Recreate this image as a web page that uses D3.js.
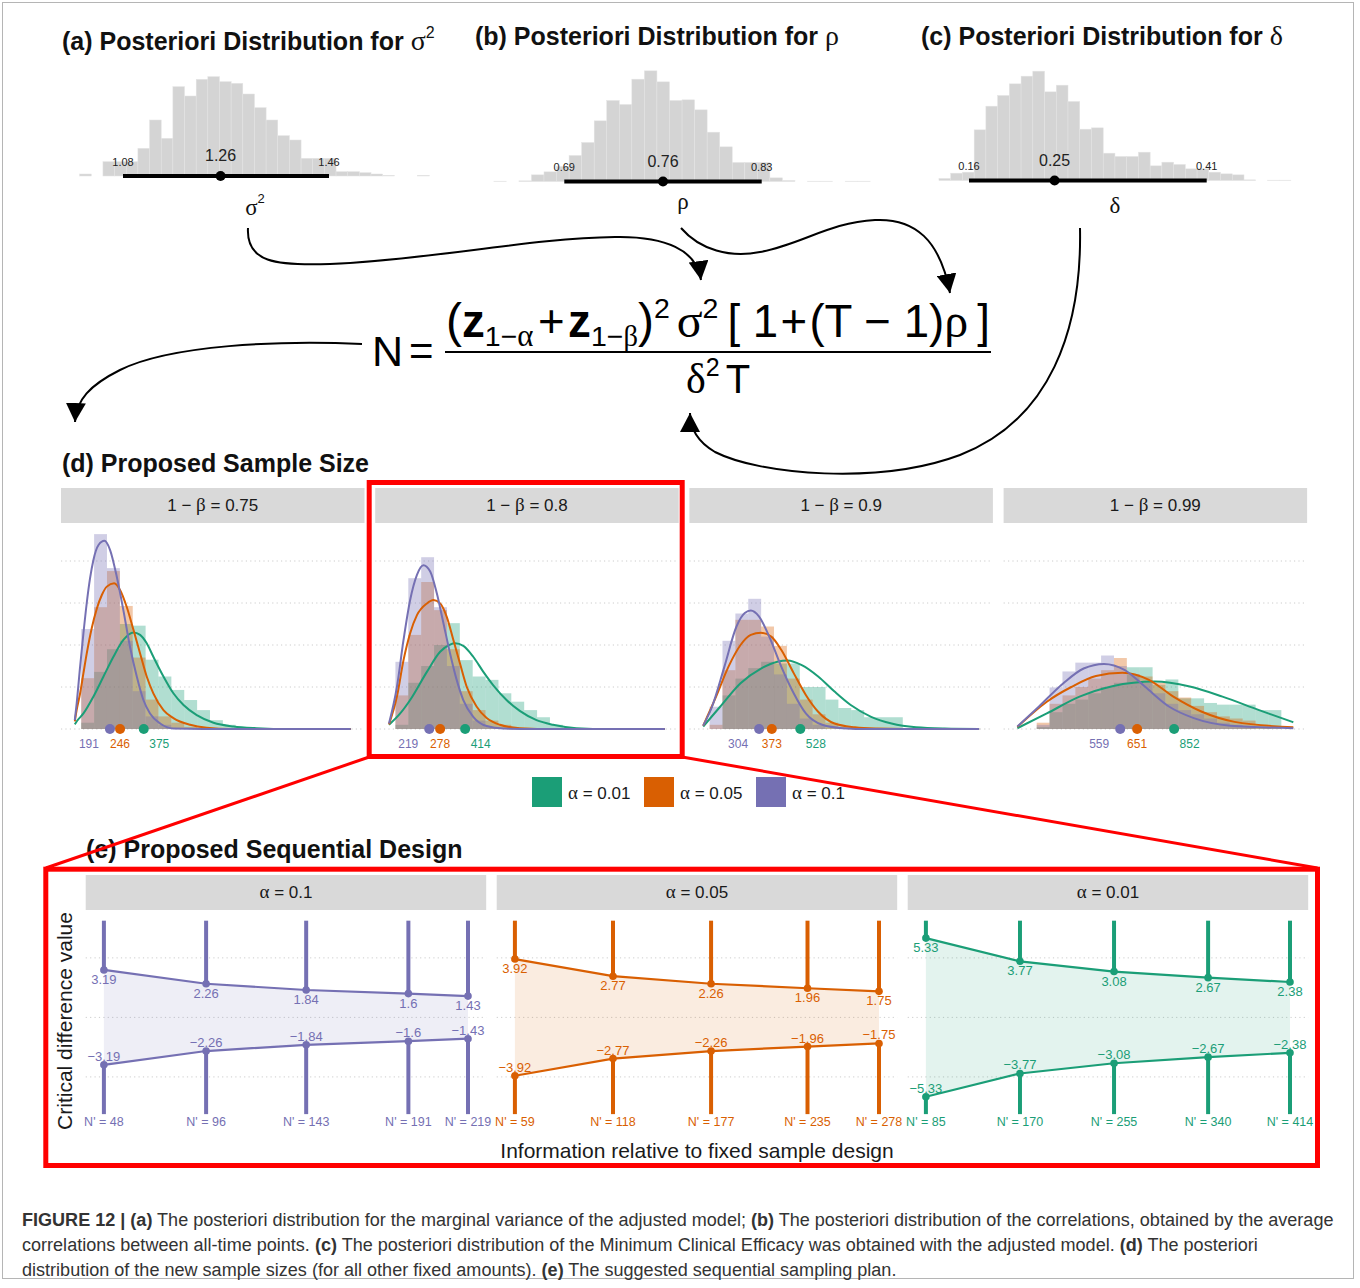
<!DOCTYPE html>
<html>
<head>
<meta charset="utf-8">
<script src="https://cdn.jsdelivr.net/npm/d3@7"></script>
<style>
  body { margin: 0; background: #fff; }
  svg { display: block; }
</style>
</head>
<body>
<svg id="fig" width="1360" height="1288"></svg>
<script>
// ---------- (a)-(c) posterior histograms ----------
const SIGMA_BIN_START = 1.0, SIGMA_BIN_WIDTH = 0.0215;
const SIGMA_COUNTS = [6,0,43,43,43,83,168,113,268,240,290,298,283,278,246,205,168,121,108,53,53,53,13,13,10,6,2,0,0,2];
const SIGMA_INTERVAL = [1.08, 1.26, 1.46];

const RHO_BIN_START = 0.640, RHO_BIN_WIDTH = 0.0089;
const RHO_COUNTS = [1,0,2,20,29,45,78,117,182,243,231,307,332,299,243,245,215,148,104,57,57,57,11,3,0,1,1,0,1,1];
const RHO_INTERVAL = [0.69, 0.76, 0.83];

const DELTA_BIN_START = 0.1284, DELTA_BIN_WIDTH = 0.01234;
const DELTA_COUNTS = [6,22,25,152,223,255,290,313,328,266,286,237,154,158,82,72,72,85,44,55,48,35,35,25,20,17,2,0,1,1];
const DELTA_INTERVAL = [0.16, 0.25, 0.41];

// ---------- (d) proposed sample size ----------
const POWER_LEVELS = ["0.75", "0.8", "0.9", "0.99"];
const ALPHA_LEVELS = ["0.01", "0.05", "0.1"];
const ALPHA_COLORS = ["#1b9e77", "#d95f02", "#7570b3"];
const MEDIAN_N = [[375, 246, 191], [414, 278, 219], [528, 373, 304], [852, 651, 559]];
const HIST_BIN_START = 35, HIST_BIN_WIDTH = 70;   // sample-size bins
const DENSITY_TICKS = [0, 1, 2, 3, 4];              // density x 1000

// histogram densities (x1000), per alpha: 0.01, 0.05, 0.1
const HIST_075 = [
  [0.15,1.36,1.9,2.5,2.46,1.65,1.25,0.93,0.69,0.45,0.21,0.1],
  [1.21,2.9,3.76,2.93,1.7,0.7,0.3,0.15,0.05],
  [2.38,4.64,3.83,2.1,0.9,0.3,0.1]
];
const HIST_080 = [
  [0.1,1.1,1.5,2.0,2.52,1.64,1.25,1.17,0.85,0.65,0.45,0.28,0.1],
  [0.8,2.24,3.5,2.83,1.9,0.9,0.45,0.2,0.1],
  [1.6,3.59,4.09,2.9,1.5,0.6,0.2,0.05]
];
const HIST_090 = [
  [0,0.8,1.2,1.45,1.6,1.56,1.56,1.0,1.0,0.7,0.5,0.45,0.28,0.28,0.28],
  [0.1,1.4,2.6,2.6,2.44,1.98,1.2,0.7,0.35,0.15,0.05],
  [0.53,2.1,2.75,3.1,2.2,1.3,0.6,0.25,0.1]
];
const HIST_099 = [
  [0,0.05,0.4,0.6,0.7,0.85,1.0,1.1,1.47,1.47,1.05,1.18,0.73,0.73,0.62,0.58,0.58,0.58,0.45,0.45,0],
  [0,0.15,0.6,0.8,1.0,1.2,1.4,1.69,1.3,1.25,1.1,0.9,0.75,0.55,0.4,0.3,0.25,0.2,0.1,0.05],
  [0,0.1,0.99,1.37,1.58,1.58,1.75,1.5,1.3,1.1,0.85,0.6,0.45,0.35,0.25,0.15,0.1,0.05]
];

// fitted density curves [N, density x 1000], per alpha: 0.01, 0.05, 0.1
const CURVE_075 = [
  [[0,0.11],[10,0.18],[47,0.37],[101,0.77],[156,1.25],[210,1.72],[264,2.12],[319,2.30],[355,2.24],[391,2.04],[427,1.72],[482,1.25],[536,0.85],[591,0.57],[663,0.33],[754,0.15],[862,0.06],[989,0.02],[1170,0],[1500,0]],
  [[0,0.18],[10,0.45],[29,0.85],[47,1.33],[65,1.80],[92,2.40],[120,2.87],[147,3.19],[174,3.39],[214,3.47],[246,3.31],[282,2.91],[319,2.36],[355,1.80],[391,1.25],[427,0.85],[482,0.45],[536,0.26],[627,0.10],[717,0.03],[850,0],[1500,0]],
  [[0,0.21],[10,0.6],[29,1.49],[47,2.28],[65,3.0],[83,3.59],[101,4.02],[129,4.38],[161,4.48],[192,4.26],[228,3.63],[264,2.83],[300,1.96],[337,1.25],[373,0.69],[409,0.37],[464,0.13],[536,0.01],[700,0],[1500,0]]
];
const CURVE_080 = [
  [[0,0.10],[61,0.37],[115,0.69],[206,1.36],[278,1.84],[332,2.01],[359,2.04],[404,1.98],[458,1.72],[513,1.36],[567,1.04],[639,0.69],[711,0.43],[802,0.21],[892,0.10],[1018,0.02],[1199,0],[1500,0]],
  [[0,0.11],[43,0.77],[79,1.64],[115,2.28],[152,2.71],[206,2.99],[242,3.07],[278,2.99],[314,2.67],[350,2.12],[386,1.56],[423,1.0],[477,0.53],[531,0.26],[603,0.10],[711,0.02],[900,0],[1500,0]],
  [[0,0.13],[43,1.0],[79,2.12],[115,3.07],[152,3.67],[187,3.90],[224,3.75],[260,3.23],[296,2.52],[332,1.80],[368,1.17],[404,0.69],[458,0.29],[531,0.07],[621,0.01],[800,0],[1500,0]]
];
const CURVE_090 = [
  [[0,0.06],[92,0.53],[203,1.09],[314,1.44],[403,1.60],[458,1.63],[536,1.52],[625,1.25],[714,0.89],[802,0.57],[913,0.29],[1024,0.13],[1157,0.04],[1312,0.01],[1500,0]],
  [[0,0.08],[70,0.77],[137,1.48],[203,2.0],[259,2.24],[314,2.29],[370,2.2],[425,1.88],[492,1.33],[558,0.81],[625,0.41],[714,0.13],[825,0.04],[935,0.01],[1100,0],[1500,0]],
  [[0,0.08],[48,0.53],[115,1.48],[181,2.44],[226,2.76],[259,2.82],[303,2.68],[359,2.20],[425,1.48],[492,0.85],[558,0.37],[647,0.10],[758,0.02],[900,0],[1500,0]]
];
const CURVE_099 = [
  [[0,0.02],[160,0.37],[338,0.77],[516,1.02],[748,1.13],[937,1.01],[1115,0.77],[1314,0.45],[1500,0.16]],
  [[0,0.05],[160,0.65],[293,1.0],[427,1.26],[571,1.34],[715,1.17],[848,0.77],[1003,0.41],[1181,0.17],[1500,0.04]],
  [[0,0.06],[116,0.53],[250,1.09],[360,1.44],[471,1.55],[582,1.41],[693,1.01],[826,0.53],[959,0.26],[1159,0.08],[1500,0.02]]
];
const HISTS = [HIST_075, HIST_080, HIST_090, HIST_099];
const CURVES = [CURVE_075, CURVE_080, CURVE_090, CURVE_099];

// ---------- (e) sequential design ----------
const SEQ_ALPHA = ["0.1", "0.05", "0.01"];
const SEQ_COLORS = ["#7570b3", "#d95f02", "#1b9e77"];
const SEQ_N = [[48, 96, 143, 191, 219], [59, 118, 177, 235, 278], [85, 170, 255, 340, 414]];
const SEQ_BOUND = [[3.19, 2.26, 1.84, 1.6, 1.43], [3.92, 2.77, 2.26, 1.96, 1.75], [5.33, 3.77, 3.08, 2.67, 2.38]];
const SEQ_GRID = [-4, 0, 4];
const SEQ_LIMIT = 6.5;

// ---------- drawing ----------
const SANS = "'Liberation Sans', Arial, Helvetica, sans-serif";
const SERIF = "'Liberation Serif', 'Times New Roman', serif";
const svg = d3.select("#fig");
svg.append("rect").attr("x", 0).attr("y", 0).attr("width", 1360).attr("height", 1288).attr("fill", "#fff");
svg.append("rect").attr("x", 2.5).attr("y", 2.5).attr("width", 1351).attr("height", 1276)
  .attr("fill", "none").attr("stroke", "#b5b5b5").attr("stroke-width", 1);

const fmt = v => String(v).replace("-", "\u2212");

// title with a greek symbol (optionally squared)
function greekTitle(x, y, prefix, sym, sup) {
  const t = svg.append("text").attr("x", x).attr("y", y)
    .attr("font-family", SANS).attr("font-size", 25).attr("font-weight", "bold").attr("fill", "#111");
  t.append("tspan").text(prefix);
  t.append("tspan").attr("font-family", SERIF).attr("font-weight", "normal").attr("font-size", 28).text(sym);
  if (sup) t.append("tspan").attr("font-weight", "normal").attr("font-size", 16).attr("dy", -12).text(sup);
}

function posterior(cfg) {
  const g = svg.append("g");
  const x = d3.scaleLinear().domain([cfg.interval[0], cfg.interval[2]]).range(cfg.range);
  const y = d3.scaleLinear().domain([0, 300]).range([cfg.base, cfg.base - 100]);
  g.selectAll("rect").data(cfg.counts).join("rect")
    .attr("x", (d, i) => x(cfg.start + i * cfg.width))
    .attr("width", x(cfg.start + cfg.width) - x(cfg.start))
    .attr("y", d => y(d))
    .attr("height", d => Math.max(0, y(0) - y(d)))
    .attr("fill", "#d4d4d4").attr("stroke", "#e4e4e4").attr("stroke-width", 0.5);
  g.append("line").attr("x1", x(cfg.interval[0])).attr("x2", x(cfg.interval[2]))
    .attr("y1", cfg.base).attr("y2", cfg.base).attr("stroke", "#000").attr("stroke-width", 4);
  g.append("circle").attr("cx", x(cfg.interval[1])).attr("cy", cfg.base).attr("r", 5).attr("fill", "#000");
  [0, 2].forEach(k => g.append("text").attr("x", x(cfg.interval[k])).attr("y", cfg.base - 10.5)
    .attr("text-anchor", "middle").attr("font-family", SANS).attr("font-size", 11).attr("fill", "#222")
    .text(cfg.interval[k].toFixed(2)));
  g.append("text").attr("x", x(cfg.interval[1])).attr("y", cfg.base - 15)
    .attr("text-anchor", "middle").attr("font-family", SANS).attr("font-size", 16).attr("fill", "#222")
    .text(cfg.interval[1].toFixed(2));
  const lab = g.append("text").attr("x", cfg.labelX).attr("y", cfg.labelY).attr("text-anchor", "middle")
    .attr("font-family", SERIF).attr("font-size", 23).attr("fill", "#111");
  lab.append("tspan").text(cfg.sym);
  if (cfg.sup) lab.append("tspan").attr("font-family", SANS).attr("font-size", 13).attr("dy", -12).text(cfg.sup);
}

greekTitle(62, 50, "(a) Posteriori Distribution for ", "\u03c3", "2");
greekTitle(475, 45, "(b) Posteriori Distribution for ", "\u03c1");
greekTitle(921, 45, "(c) Posteriori Distribution for ", "\u03b4");

posterior({counts: SIGMA_COUNTS, start: SIGMA_BIN_START, width: SIGMA_BIN_WIDTH, interval: SIGMA_INTERVAL,
  range: [123, 329], base: 176, sym: "\u03c3", sup: "2", labelX: 255, labelY: 215});
posterior({counts: RHO_COUNTS, start: RHO_BIN_START, width: RHO_BIN_WIDTH, interval: RHO_INTERVAL,
  range: [564.3, 761.7], base: 181.5, sym: "\u03c1", labelX: 683, labelY: 209});
posterior({counts: DELTA_COUNTS, start: DELTA_BIN_START, width: DELTA_BIN_WIDTH, interval: DELTA_INTERVAL,
  range: [969, 1206.7], base: 180.5, sym: "\u03b4", labelX: 1115, labelY: 213});

// ---------- arrows ----------
const defs = svg.append("defs");
defs.append("marker").attr("id", "head").attr("viewBox", "0 -10 19 20")
  .attr("refX", 19).attr("refY", 0).attr("markerWidth", 19).attr("markerHeight", 20)
  .attr("markerUnits", "userSpaceOnUse").attr("orient", "auto")
  .append("path").attr("d", "M0,-10L19,0L0,10Z").attr("fill", "#000");
const arrows = [
  "M248,228 C246,262 275,266 330,264 C430,260 530,238 615,237 C665,236 697,250 701,280",
  "M681,228 C700,250 730,258 760,252 C800,245 830,222 875,220 C915,218 940,240 950,293",
  "M1080,228 C1082,330 1050,420 960,455 C880,485 760,475 715,452 C698,442 690,430 690,413",
  "M362,344 C280,340 170,345 120,370 C90,385 76,400 75,422"
];
svg.append("g").selectAll("path").data(arrows).join("path").attr("d", d => d)
  .attr("fill", "none").attr("stroke", "#000").attr("stroke-width", 2).attr("marker-end", "url(#head)");

// ---------- formula ----------
function pieces(g, list, x0, base) {
  let x = x0;
  list.forEach(p => {
    const t = g.append("text").attr("x", x).attr("y", base + (p.dy || 0))
      .attr("font-family", p.serif ? SERIF : SANS).attr("font-size", p.size)
      .attr("font-weight", p.bold ? "bold" : "normal").attr("fill", "#000").text(p.t);
    x += t.node().getComputedTextLength() + (p.gap || 0);
  });
  return x - x0;
}
const numG = svg.append("g");
const numW = pieces(numG, [
  {t: "(", size: 42}, {t: "z", size: 40, bold: true}, {t: "1\u2212", size: 25, dy: 8}, {t: "\u03b1", size: 27, dy: 8, serif: true, gap: 4},
  {t: "+", size: 40, gap: 3}, {t: "z", size: 40, bold: true}, {t: "1\u2212", size: 25, dy: 8}, {t: "\u03b2", size: 25, dy: 8, serif: true},
  {t: ")", size: 42}, {t: "2", size: 25, dy: -17, gap: 6}, {t: "\u03c3", size: 42, serif: true}, {t: "2", size: 25, dy: -17, gap: 8},
  {t: "[ 1", size: 40, gap: 2}, {t: "+", size: 40, gap: 2}, {t: "(T \u2212 1) ", size: 40}, {t: "\u03c1", size: 42, serif: true, gap: 8}, {t: "]", size: 40}
], 0, 0);
const numScale = 544 / numW;
numG.attr("transform", `translate(446,337) scale(${numScale})`);
svg.append("line").attr("x1", 445).attr("x2", 991).attr("y1", 352).attr("y2", 352).attr("stroke", "#000").attr("stroke-width", 2);
const denG = svg.append("g");
const denW = pieces(denG, [{t: "\u03b4", size: 42, serif: true}, {t: "2", size: 25, dy: -17, gap: 6}, {t: "T", size: 40}], 0, 0);
denG.attr("transform", `translate(${718 - denW / 2},393)`);
svg.append("text").attr("x", 372).attr("y", 366).attr("font-family", SANS).attr("font-size", 43).text("N");
svg.append("text").attr("x", 409).attr("y", 365).attr("font-family", SANS).attr("font-size", 42).text("=");

// ---------- (d) ----------
svg.append("text").attr("x", 62).attr("y", 472).attr("font-family", SANS).attr("font-size", 25)
  .attr("font-weight", "bold").attr("fill", "#111").text("(d) Proposed Sample Size");

const D_LEFT = 61, D_WIDTH = 303.5, D_GAP = 10.7;
const yDens = d3.scaleLinear().domain([0, 1]).range([729, 687]);
POWER_LEVELS.forEach((pw, i) => {
  const x0 = D_LEFT + i * (D_WIDTH + D_GAP);
  const pad = D_WIDTH * 0.05 / 1.1;
  const xs = d3.scaleLinear().domain([0, 1500]).range([x0 + pad, x0 + D_WIDTH - pad]);
  const g = svg.append("g");
  g.append("rect").attr("x", x0).attr("y", 488).attr("width", D_WIDTH).attr("height", 35).attr("fill", "#d9d9d9");
  const st = g.append("text").attr("x", x0 + D_WIDTH / 2).attr("y", 511).attr("text-anchor", "middle")
    .attr("font-family", SANS).attr("font-size", 17).attr("fill", "#1a1a1a");
  st.append("tspan").text("1 \u2212 ");
  st.append("tspan").attr("font-family", SERIF).attr("font-size", 19).text("\u03b2");
  st.append("tspan").text(" = " + pw);
  g.selectAll("line.grid").data(DENSITY_TICKS).join("line").attr("class", "grid")
    .attr("x1", x0).attr("x2", x0 + D_WIDTH).attr("y1", d => yDens(d)).attr("y2", d => yDens(d))
    .attr("stroke", "#cccccc").attr("stroke-width", 1).attr("stroke-dasharray", "1.2,3.2");
  HISTS[i].forEach((hist, a) => {
    g.append("g").selectAll("rect").data(hist).join("rect")
      .attr("x", (d, k) => xs(HIST_BIN_START + k * HIST_BIN_WIDTH))
      .attr("width", xs(HIST_BIN_WIDTH) - xs(0))
      .attr("y", d => yDens(d)).attr("height", d => yDens(0) - yDens(d))
      .attr("fill", ALPHA_COLORS[a]).attr("fill-opacity", 0.34);
  });
  const line = d3.line().x(d => xs(d[0])).y(d => yDens(d[1])).curve(d3.curveMonotoneX);
  CURVES[i].forEach((c, a) => {
    g.append("path").attr("d", line(c)).attr("fill", "none").attr("stroke", ALPHA_COLORS[a]).attr("stroke-width", 2);
  });
  const nudge = [15.5, 0, -21];
  MEDIAN_N[i].forEach((m, a) => {
    g.append("circle").attr("cx", xs(m)).attr("cy", yDens(0)).attr("r", 5).attr("fill", ALPHA_COLORS[a]);
    g.append("text").attr("x", xs(m) + nudge[a]).attr("y", 747.5).attr("text-anchor", "middle")
      .attr("font-family", SANS).attr("font-size", 12).attr("fill", ALPHA_COLORS[a]).text(m);
  });
});

// legend
const legX = [532, 644, 756];
ALPHA_LEVELS.forEach((al, a) => {
  svg.append("rect").attr("x", legX[a]).attr("y", 777).attr("width", 30).attr("height", 30).attr("fill", ALPHA_COLORS[a]);
  const t = svg.append("text").attr("x", legX[a] + 36).attr("y", 799).attr("font-family", SANS)
    .attr("font-size", 17).attr("fill", "#1a1a1a");
  t.append("tspan").attr("font-family", SERIF).attr("font-size", 19).text("\u03b1");
  t.append("tspan").text(" = " + al);
});

// ---------- (e) ----------
svg.append("text").attr("x", 86).attr("y", 858).attr("font-family", SANS).attr("font-size", 25)
  .attr("font-weight", "bold").attr("fill", "#111").text("(e) Proposed Sequential Design");

const E_LEFT = 85.7, E_WIDTH = 400.5, E_GAP = 10.5;
const ySeq = d3.scaleLinear().domain([0, 1]).range([1017.4, 1002.52]);
SEQ_ALPHA.forEach((al, i) => {
  const x0 = E_LEFT + i * (E_WIDTH + E_GAP);
  const pad = E_WIDTH * 0.05 / 1.1;
  const ns = SEQ_N[i];
  const xs = d3.scaleLinear().domain([ns[0], ns[ns.length - 1]]).range([x0 + pad, x0 + E_WIDTH - pad]);
  const col = SEQ_COLORS[i];
  const g = svg.append("g");
  g.append("rect").attr("x", x0).attr("y", 875).attr("width", E_WIDTH).attr("height", 35).attr("fill", "#d9d9d9");
  const st = g.append("text").attr("x", x0 + E_WIDTH / 2).attr("y", 898).attr("text-anchor", "middle")
    .attr("font-family", SANS).attr("font-size", 17).attr("fill", "#1a1a1a");
  st.append("tspan").attr("font-family", SERIF).attr("font-size", 19).text("\u03b1");
  st.append("tspan").text(" = " + al);
  g.selectAll("line.grid").data(SEQ_GRID).join("line").attr("class", "grid")
    .attr("x1", x0).attr("x2", x0 + E_WIDTH).attr("y1", d => ySeq(d)).attr("y2", d => ySeq(d))
    .attr("stroke", "#cccccc").attr("stroke-width", 1).attr("stroke-dasharray", "1.2,3.2");
  const pts = ns.map((n, k) => ({n, b: SEQ_BOUND[i][k]}));
  g.append("path").attr("d", d3.area().x(d => xs(d.n)).y0(d => ySeq(-d.b)).y1(d => ySeq(d.b))(pts))
    .attr("fill", col).attr("fill-opacity", 0.12);
  pts.forEach(p => {
    g.append("line").attr("x1", xs(p.n)).attr("x2", xs(p.n)).attr("y1", ySeq(SEQ_LIMIT)).attr("y2", ySeq(p.b))
      .attr("stroke", col).attr("stroke-width", 4);
    g.append("line").attr("x1", xs(p.n)).attr("x2", xs(p.n)).attr("y1", ySeq(-p.b)).attr("y2", ySeq(-SEQ_LIMIT))
      .attr("stroke", col).attr("stroke-width", 4);
  });
  const ln = d3.line().x(d => xs(d.n));
  g.append("path").attr("d", ln.y(d => ySeq(d.b))(pts)).attr("fill", "none").attr("stroke", col).attr("stroke-width", 2.2);
  g.append("path").attr("d", ln.y(d => ySeq(-d.b))(pts)).attr("fill", "none").attr("stroke", col).attr("stroke-width", 2.2);
  pts.forEach(p => {
    g.append("circle").attr("cx", xs(p.n)).attr("cy", ySeq(p.b)).attr("r", 3.8).attr("fill", col);
    g.append("circle").attr("cx", xs(p.n)).attr("cy", ySeq(-p.b)).attr("r", 3.8).attr("fill", col);
    g.append("text").attr("x", xs(p.n)).attr("y", ySeq(p.b) + 14).attr("text-anchor", "middle")
      .attr("font-family", SANS).attr("font-size", 13).attr("fill", col).text(fmt(p.b));
    g.append("text").attr("x", xs(p.n)).attr("y", ySeq(-p.b) - 4).attr("text-anchor", "middle")
      .attr("font-family", SANS).attr("font-size", 13).attr("fill", col).text(fmt(-p.b));
    g.append("text").attr("x", xs(p.n)).attr("y", 1126).attr("text-anchor", "middle")
      .attr("font-family", SANS).attr("font-size", 12.5).attr("fill", col).text("N' = " + p.n);
  });
});
svg.append("text").attr("transform", "translate(72,1021) rotate(-90)").attr("text-anchor", "middle")
  .attr("font-family", SANS).attr("font-size", 21).attr("fill", "#1a1a1a").text("Critical difference value");
svg.append("text").attr("x", 697).attr("y", 1158).attr("text-anchor", "middle")
  .attr("font-family", SANS).attr("font-size", 21).attr("fill", "#1a1a1a").text("Information relative to fixed sample design");

// ---------- red highlight ----------
const red = svg.append("g").attr("stroke", "#ff0000").attr("fill", "none");
red.append("rect").attr("x", 369.2).attr("y", 482.5).attr("width", 313).attr("height", 274).attr("stroke-width", 5);
red.append("rect").attr("x", 45.8).attr("y", 869.2).attr("width", 1271.7).attr("height", 296.3).attr("stroke-width", 5);
red.append("line").attr("x1", 369.2).attr("y1", 757).attr("x2", 45.8).attr("y2", 868).attr("stroke-width", 3);
red.append("line").attr("x1", 682.2).attr("y1", 757).attr("x2", 1317.5).attr("y2", 868).attr("stroke-width", 3);

// ---------- caption ----------
const captionLines = [
  [["FIGURE 12 | ", 1], ["(a)", 1], [" The posteriori distribution for the marginal variance of the adjusted model; ", 0], ["(b)", 1], [" The posteriori distribution of the correlations, obtained by the average", 0]],
  [["correlations between all-time points. ", 0], ["(c)", 1], [" The posteriori distribution of the Minimum Clinical Efficacy was obtained with the adjusted model. ", 0], ["(d)", 1], [" The posteriori", 0]],
  [["distribution of the new sample sizes (for all other fixed amounts). ", 0], ["(e)", 1], [" The suggested sequential sampling plan.", 0]]
];
const capG = svg.append("g");
const capTexts = captionLines.map((ln, r) => {
  const t = capG.append("text").attr("x", 22).attr("y", 1226 + r * 25).attr("font-family", SANS)
    .attr("font-size", 17).attr("fill", "#333").attr("xml:space", "preserve");
  ln.forEach(([s, b]) => t.append("tspan").attr("font-weight", b ? "bold" : "normal").text(s));
  return t;
});
const w0 = capTexts[0].node().getComputedTextLength();
const capSize = 17 * 1313 / w0;
capTexts.forEach(t => t.attr("font-size", capSize));
</script>
</body>
</html>
